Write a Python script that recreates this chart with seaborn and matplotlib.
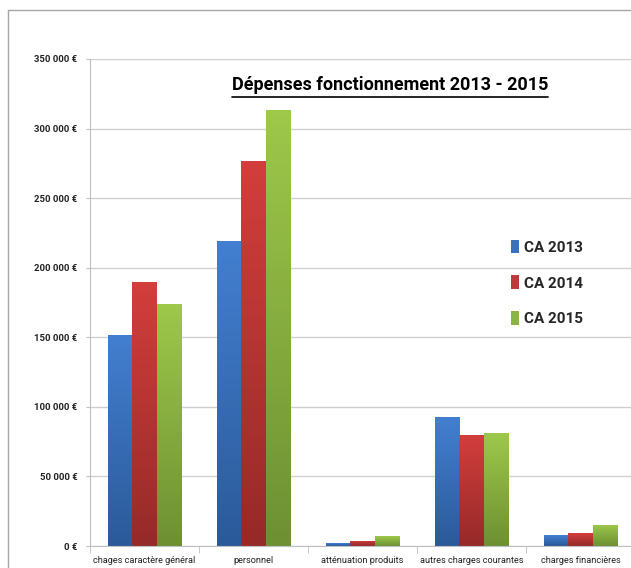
import numpy as np
import pandas as pd
import matplotlib
matplotlib.use("Agg")
import matplotlib.pyplot as plt
import seaborn as sns
from matplotlib.patches import Patch
from matplotlib.lines import Line2D
from matplotlib.ticker import FuncFormatter, FixedLocator

# data
categories = ["chages caractère général", "personnel", "atténuation produits",
              "autres charges courantes", "charges financières"]
years = ["CA 2013", "CA 2014", "CA 2015"]
ca_2013 = [152000, 219000, 2000, 92700, 7900]
ca_2014 = [190000, 277000, 3600, 79800, 9300]
ca_2015 = [174000, 313000, 7000, 81200, 15300]
y_ticks = [0, 50000, 100000, 150000, 200000, 250000, 300000, 350000]

df = pd.DataFrame({
    "cat": categories * 3,
    "year": [y for y in years for _ in categories],
    "val": ca_2013 + ca_2014 + ca_2015,
})

# (top, bottom) gradient colours like the excel bars
grads = [("#437fd0", "#2b5a9a"), ("#d23e3c", "#962a29"), ("#9dc84a", "#6e9033")]
mid = ["#3a70be", "#c0393a", "#8cb443"]

sns.set_style("white")
plt.rcParams["font.family"] = ["Roboto", "DejaVu Sans"]

fig = plt.figure(figsize=(6.31, 5.68), dpi=100)
ax = fig.add_axes([90 / 631, 22 / 568, 545 / 631, 487 / 568])

sns.barplot(data=df, x="cat", y="val", hue="year", palette=mid, width=0.665,
            saturation=1, ax=ax, legend=False)

# gradient fill
for cont, (top, bot) in zip(ax.containers, grads):
    c1 = np.array(matplotlib.colors.to_rgba(top))
    c2 = np.array(matplotlib.colors.to_rgba(bot))
    t = np.linspace(0, 1, 64)[:, None]
    img = (c1 * (1 - t) + c2 * t)[:, None, :]
    for bar in cont:
        x0, w, h = bar.get_x(), bar.get_width(), bar.get_height()
        im = ax.imshow(img, extent=[x0, x0 + w, 0, h], aspect="auto",
                       origin="upper", zorder=2.5)
        im.set_clip_path(bar)
        bar.set_edgecolor("none")
ax.set_ylim(0, 350000)
ax.set_xlim(-0.5, 4.5)
ax.set_aspect("auto")

ax.set_xlabel("")
ax.set_ylabel("")
ax.yaxis.set_major_locator(FixedLocator(y_ticks))
ax.yaxis.set_major_formatter(FuncFormatter(
    lambda v, p: f"{int(v):,}".replace(",", " ") + " €"))
ax.grid(axis="y", color="#d0d0d0", linewidth=1)
ax.set_axisbelow(True)
for s in ["top", "right"]:
    ax.spines[s].set_visible(False)
ax.spines["left"].set_color("#bfbfbf")
ax.spines["bottom"].set_color("#bfbfbf")
ax.tick_params(axis="y", length=3, color="#bfbfbf", labelsize=6.8, pad=6,
               left=True)
for lab in ax.get_yticklabels():
    lab.set_fontweight("bold")
    lab.set_color("#222222")

ax.xaxis.set_minor_locator(FixedLocator([-0.5, 0.5, 1.5, 2.5, 3.5, 4.5]))
ax.tick_params(axis="x", which="minor", length=5, color="#bfbfbf", bottom=True)
ax.tick_params(axis="x", which="major", length=0, labelsize=6.6, pad=7)
for lab in ax.get_xticklabels():
    lab.set_color("#222222")

# title with underline
title = fig.text(390 / 631, 1 - 90 / 568, "Dépenses fonctionnement 2013 - 2015",
                 ha="center", va="baseline", fontsize=13, fontweight="bold",
                 color="black")
fig.canvas.draw()
bb = title.get_window_extent().transformed(fig.transFigure.inverted())
fig.add_artist(Line2D([bb.x0, bb.x1], [1 - 97 / 568] * 2, color="black",
                      linewidth=1.2, transform=fig.transFigure))

# legend
handles = [Patch(facecolor=c, edgecolor="none") for c in mid]
fig.legend(handles, years, loc="upper left",
           bbox_to_anchor=(497 / 631, 1 - 226 / 568), frameon=False,
           prop={"weight": "bold", "size": 11}, handlelength=0.55,
           handleheight=1.0, handletextpad=0.3, labelspacing=1.35)

# chart frame
fig.add_artist(Line2D([8 / 631, 8 / 631], [0, 1 - 10 / 568], color="#a6a6a6",
                      linewidth=1, transform=fig.transFigure))
fig.add_artist(Line2D([8 / 631, 1], [1 - 10 / 568] * 2, color="#a6a6a6",
                      linewidth=1, transform=fig.transFigure))

fig.savefig("out.png", dpi=100)
